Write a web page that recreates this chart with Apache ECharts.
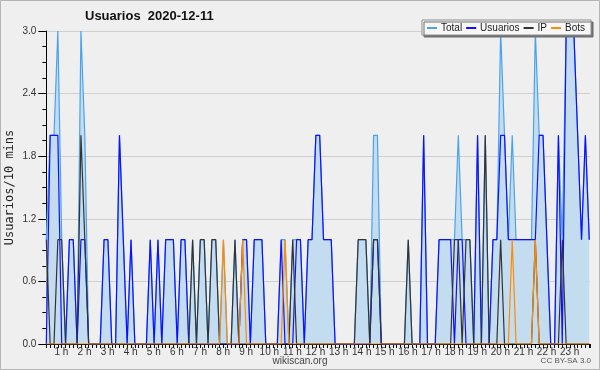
<!DOCTYPE html>
<html><head><meta charset="utf-8">
<script src="https://cdn.jsdelivr.net/npm/echarts/dist/echarts.min.js"></script>
<style>html,body{margin:0;padding:0;background:#efefef}#c{width:600px;height:370px}</style>
</head><body><div id="c"></div>
<script>
// 10-minute slots, index 0 = 00:00
const usuarios = [
 0,2,2,2,0,0,1,1,0,1,1,0,
 0,0,0,1,1,0,0,2,1,0,1,0,
 0,0,0,1,0,1,0,1,1,1,0,1,
 1,0,0,0,0,0,0,0,0,0,0,0,
 0,0,0,1,1,0,1,1,1,0,0,0,
 0,1,0,0,0,1,1,0,1,1,2,2,
 1,1,1,0,0,0,0,0,0,0,0,0,
 0,1,1,0,0,0,0,0,0,0,0,0,
 0,0,2,0,0,0,1,1,1,1,0,1,
 1,0,0,0,2,0,0,0,1,1,2,2,
 1,1,1,1,1,1,1,1,2,2,1,0,
 0,2,0,3,3,3,2,1,2,1
];
const ip = [
 1,0,0,1,1,0,0,0,0,2,1,0,
 0,0,0,0,0,0,0,0,0,0,0,0,
 0,0,0,0,0,0,0,0,0,0,0,0,
 0,0,1,0,1,1,0,1,1,0,0,0,
 0,1,0,0,0,0,0,0,0,0,0,0,
 0,0,0,0,1,0,0,0,0,0,0,0,
 0,0,0,0,0,0,0,0,0,1,1,1,
 0,1,1,0,0,0,0,0,0,0,1,0,
 0,0,0,0,0,0,0,0,0,0,1,1,
 0,1,1,0,0,0,2,0,0,0,1,0,
 0,0,0,0,0,0,0,1,0,0,0,0,
 0,0,1,0,0,0,0,0,0,0
];
const bots = [
 0,0,0,0,0,0,0,0,0,0,0,0,
 0,0,0,0,0,0,0,0,0,0,0,0,
 0,0,0,0,0,0,0,0,0,0,0,0,
 0,0,0,0,0,0,0,0,0,0,1,0,
 0,0,0,1,0,0,0,0,0,0,0,0,
 0,0,1,0,0,0,0,0,0,0,0,0,
 0,0,0,0,0,0,0,0,0,0,0,0,
 0,0,0,0,0,0,0,0,0,0,0,0,
 0,0,0,0,0,0,0,0,0,0,0,0,
 0,0,0,0,0,0,0,0,0,0,0,0,
 0,1,0,0,0,0,0,1,0,0,0,0,
 0,0,0,0,0,0,0,0,0,0
];
const total = [
 1,2,2,3,1,0,1,1,0,3,2,0,
 0,0,0,1,1,0,0,2,1,0,1,0,
 0,0,0,1,0,1,0,1,1,1,0,1,
 1,0,1,0,1,1,0,1,1,0,1,0,
 0,1,0,1,1,0,1,1,1,0,0,0,
 0,1,1,0,1,1,1,0,1,1,2,2,
 1,1,1,0,0,0,0,0,0,1,1,1,
 0,2,2,0,0,0,0,0,0,0,1,0,
 0,0,2,0,0,0,1,1,1,1,1,2,
 1,1,1,0,2,0,2,0,1,1,3,2,
 1,2,1,1,1,1,1,3,2,2,1,0,
 0,2,1,3,3,3,2,1,2,1
];
const seriesNames = ['Total','Usuarios','IP','Bots'];
const yTicks = [0, 0.6, 1.2, 1.8, 2.4, 3.0];
const titleText = 'Usuarios  2020-12-11';
const yName = 'Usuarios/10 mins';

const FONT = "'Liberation Sans',Arial,sans-serif";
const toPts = a => a.map((v,i)=>[i,v]);

const chart = echarts.init(document.getElementById('c'));
chart.setOption({
  animation: false,
  backgroundColor: '#efefef',
  title: { text: titleText, left: 85, top: 10, padding: 0,
    textStyle: { fontFamily: FONT, fontWeight: 'bold', fontSize: 13, color: '#111' } },
  legend: {
    data: seriesNames, left: 422, top: 20, width: 200, orient: 'horizontal',
    icon: 'rect', itemWidth: 10, itemHeight: 2, itemGap: 4,
    padding: [3, 6, 2, 5],
    backgroundColor: '#f7f7f7', borderColor: '#8c8c8c', borderWidth: 1,
    shadowColor: '#707070', shadowOffsetX: 2, shadowOffsetY: 2, shadowBlur: 0,
    textStyle: { fontFamily: FONT, fontSize: 10, color: '#222', padding: [0,0,0,-1] }
  },
  grid: { left: 46.3, right: 10, top: 31, bottom: 26, containLabel: false, outerBoundsMode: 'none' },
  xAxis: {
    type: 'value', min: 0, max: 141.2, interval: 1,
    axisLine: { lineStyle: { color: '#000', width: 1 } },
    axisTick: { length: 4, lineStyle: { color: '#000' } },
    splitLine: { show: false },
    axisLabel: {
      fontFamily: FONT, fontSize: 10, color: '#333', margin: 3, hideOverlap: false,
      padding: [0, 16, 0, 0], showMinLabel: true, showMaxLabel: true,
      formatter: v => (v > 0 && Math.abs(v - Math.round(v)) < 1e-6 && Math.round(v) % 6 === 0) ? (Math.round(v) / 6) + ' h' : ''
    }
  },
  yAxis: {
    type: 'value', min: yTicks[0], max: yTicks[yTicks.length-1], interval: 0.6,
    name: yName, nameLocation: 'middle', nameRotate: 90, nameGap: 30, nameMoveOverlap: false,
    nameTextStyle: { fontFamily: "'DejaVu Sans Mono',monospace", fontSize: 12, color: '#222' },
    axisLine: { show: true, lineStyle: { color: '#000' } },
    axisTick: { show: true, length: 8, lineStyle: { color: '#000' } },
    minorTick: { show: true, splitNumber: 4, length: 4, lineStyle: { color: '#000' } },
    splitLine: { lineStyle: { color: '#cfcfcf', width: 1 } },
    axisLabel: { fontFamily: FONT, fontSize: 10, color: '#333', margin: 10, formatter: v => v.toFixed(1) }
  },
  series: [
    { name: seriesNames[0], type: 'line', data: toPts(total), showSymbol: false, clip: true,
      lineStyle: { color: '#4aa3ee', width: 1.2 }, itemStyle: { color: '#4aa3ee' },
      areaStyle: { color: '#c4dcf0', opacity: 1 } },
    { name: seriesNames[1], type: 'line', data: toPts(usuarios), showSymbol: false, clip: true,
      lineStyle: { color: '#1010ff', width: 1.2 }, itemStyle: { color: '#1010ff' } },
    { name: seriesNames[2], type: 'line', data: toPts(ip), showSymbol: false, clip: true,
      lineStyle: { color: '#333333', width: 1.2 }, itemStyle: { color: '#333333' } },
    { name: seriesNames[3], type: 'line', data: toPts(bots), showSymbol: false, clip: true,
      lineStyle: { color: '#ff8c00', width: 1.2 }, itemStyle: { color: '#ff8c00' } }
  ],
  graphic: [
    { type: 'rect', shape: { x: 0.5, y: 0.5, width: 599, height: 369 }, style: { fill: 'none', stroke: '#b4b4b4', lineWidth: 1 }, silent: true },
    { type: 'text', left: 'center', top: 356, style: { text: 'wikiscan.org', font: "10px 'Liberation Sans'", fill: '#444' } },
    { type: 'text', right: 9, top: 357, style: { text: 'CC BY-SA 3.0', font: "8px 'Liberation Sans'", fill: '#555' } }
  ]
});
</script></body></html>
